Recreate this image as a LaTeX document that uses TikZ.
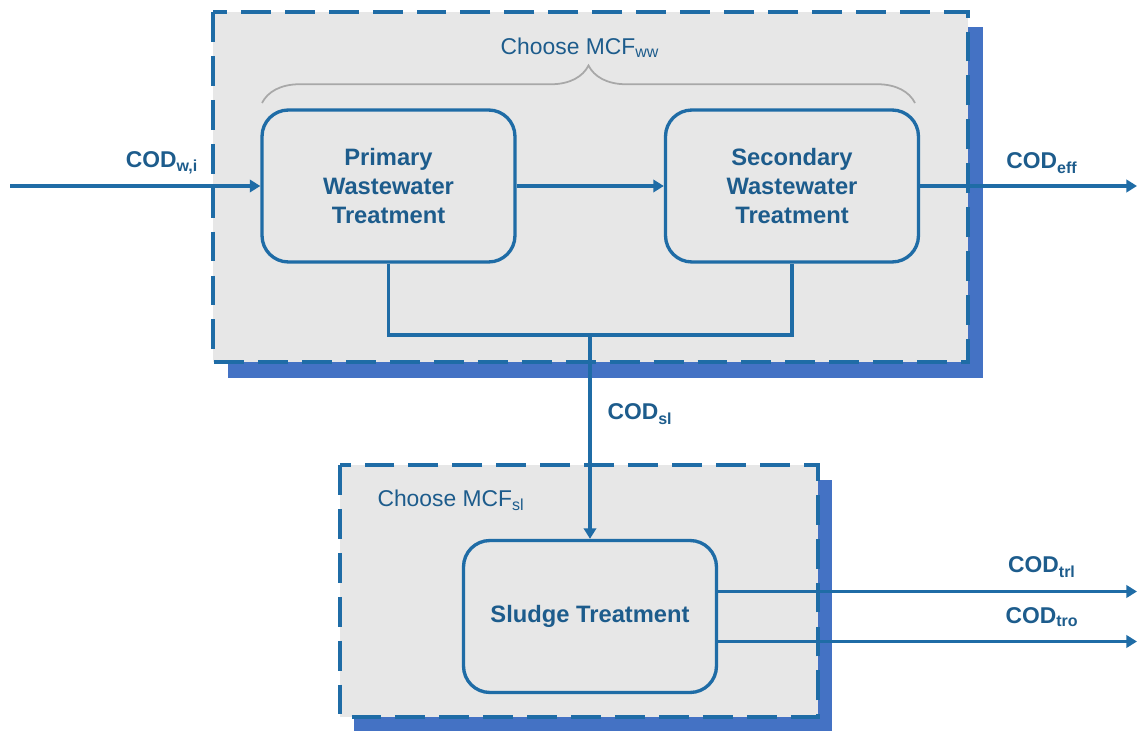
\documentclass[tikz,border=0pt]{standalone}
\usepackage{fontspec}
\setmainfont{Liberation Sans}
\usepackage{tikz}
\usetikzlibrary{arrows.meta,decorations.pathreplacing}

\definecolor{lineblue}{HTML}{1F6CA6}
\definecolor{textblue}{HTML}{1D5C8C}
\definecolor{shadowblue}{HTML}{4472C4}
\definecolor{boxgray}{HTML}{E7E7E7}
\definecolor{bracegray}{HTML}{A8A8A8}

\begin{document}
\begin{tikzpicture}[x=0.02cm, y=-0.02cm,
    proc/.style={draw=lineblue, line width=1.9pt, rounded corners=15pt,
      minimum width=5.06cm, minimum height=3.04cm, align=center,
      text=textblue, font=\fontsize{13.5}{16.5}\selectfont\bfseries},
    flow/.style={draw=lineblue, line width=1.9pt, -{Triangle[length=6pt,width=7pt]}},
    pipe/.style={draw=lineblue, line width=1.9pt},
    cod/.style={text=textblue, font=\fontsize{13}{15}\selectfont\bfseries},
    choice/.style={text=textblue, font=\fontsize{13}{15}\selectfont},
    group/.style={fill=boxgray, draw=lineblue, line width=2.6pt, dash pattern=on 17pt off 8pt},
    groupshadow/.style={fill=shadowblue}]
  \useasboundingbox (0,0) rectangle (1137,733);

  % wastewater stage
  \fill[groupshadow] (228,27) rectangle (983,378);
  \path[group] (213,12) rectangle (968,362);
  % sludge stage
  \fill[groupshadow] (354,480) rectangle (832,731);
  \path[group] (340,465) rectangle (818,717);

  % choice of MCF
  \draw[bracegray, line width=1pt, decorate, decoration={brace, amplitude=0.75cm}]
    (262,103) -- (915,103);
  \node[choice] (mcfww) at (580,48) {Choose MCF\textsubscript{ww}};
  \node[choice] (mcfsl) at (451,500) {Choose MCF\textsubscript{sl}};

  % treatment steps
  \node[proc] (prim) at (388.5,186) {Primary\\Wastewater\\Treatment};
  \node[proc] (sec) at (792,186) {Secondary\\Wastewater\\Treatment};
  \node[proc] (sludge) at (590,616.5) {Sludge Treatment};

  % free ends
  \coordinate (in) at (10,186);
  \coordinate (eff) at (1137,186);
  \coordinate (split) at (590,335);
  \coordinate (trl) at (1137,591.5);
  \coordinate (tro) at (1137,641.5);

  % flows
  \draw[flow] (in) -- (prim.west);
  \draw[flow] (prim.east) -- (sec.west);
  \draw[flow] (sec.east) -- (eff);
  \draw[pipe] (prim.south) |- (split) -| (sec.south);
  \draw[flow] (split) -- (sludge.north);
  \draw[flow] (sludge.east |- trl) -- (trl);
  \draw[flow] (sludge.east |- tro) -- (tro);

  % COD labels
  \node[cod] (codwi) at (162,163) {COD\textsubscript{w,i}};
  \node[cod] (codeff) at (1042,163) {COD\textsubscript{eff}};
  \node[cod] (codsl) at (640,414) {COD\textsubscript{sl}};
  \node[cod] (codtrl) at (1042,567) {COD\textsubscript{trl}};
  \node[cod] (codtro) at (1042,617) {COD\textsubscript{tro}};
\end{tikzpicture}
\end{document}
